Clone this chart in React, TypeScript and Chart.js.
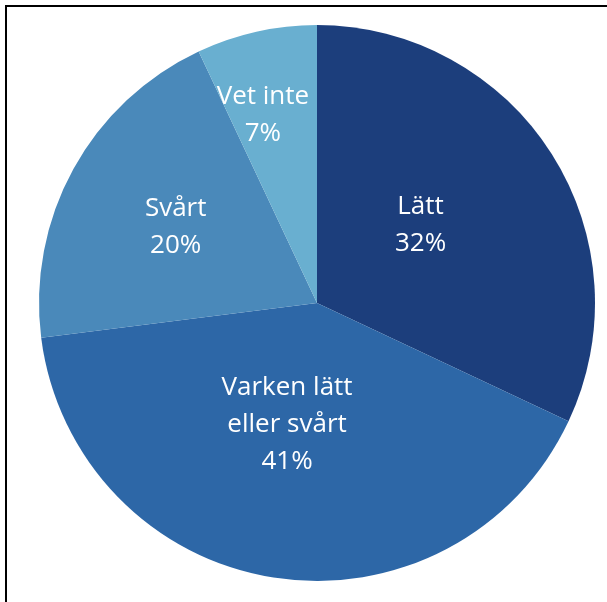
import React, { useEffect, useRef } from "react";
import { Chart, registerables } from "chart.js";

Chart.register(...registerables);

const categories: string[][] = [["Lätt"], ["Varken lätt", "eller svårt"], ["Svårt"], ["Vet inte"]];
const values: number[] = [32, 41, 20, 7];
const percentLabels: string[] = ["32%", "41%", "20%", "7%"];

const sliceColors = ["#1c3e7c", "#2d67a7", "#4a89ba", "#69afd0"];
const labelRadiusFraction = [0.47, 0.445, 0.58, 0.71];
const labelAngleOffsetDeg = [-5.2, 5, 0, -3.3];

const labelPlugin = {
  id: "sliceLabels",
  afterDatasetsDraw(chart: any) {
    const ctx = chart.ctx;
    const meta = chart.getDatasetMeta(0);
    ctx.save();
    ctx.fillStyle = "#ffffff";
    ctx.font = "500 26px 'Open Sans', Lato, sans-serif";
    ctx.textAlign = "center";
    ctx.textBaseline = "middle";
    const lineH = 37;
    meta.data.forEach((arc: any, i: number) => {
      const p = arc.getProps(["x", "y", "startAngle", "endAngle", "outerRadius"], true);
      const mid = (p.startAngle + p.endAngle) / 2 + (labelAngleOffsetDeg[i] * Math.PI) / 180;
      const r = p.outerRadius * labelRadiusFraction[i];
      const cx = p.x + Math.cos(mid) * r;
      const cy = p.y + Math.sin(mid) * r + 2;
      const lines = [...categories[i], percentLabels[i]];
      const top = cy - ((lines.length - 1) * lineH) / 2;
      lines.forEach((t, j) => ctx.fillText(t, cx, top + j * lineH));
    });
    ctx.restore();
  },
};

export default function App() {
  const ref = useRef<HTMLCanvasElement>(null);
  useEffect(() => {
    if (!ref.current) return;
    const chart = new Chart(ref.current, {
      type: "pie",
      data: {
        labels: categories.map((c) => c.join(" ")),
        datasets: [
          {
            data: values,
            backgroundColor: sliceColors,
            borderWidth: 0,
          },
        ],
      },
      options: {
        responsive: false,
        animation: false,
        layout: { padding: { top: 25, bottom: 21, left: 39, right: 12 } },
        plugins: { legend: { display: false }, tooltip: { enabled: false } },
      },
      plugins: [labelPlugin],
    });
    return () => chart.destroy();
  }, []);
  return (
    <div style={{ position: "fixed", left: 0, top: 0, width: 607, height: 602, background: "#fff", overflow: "hidden" }}>
      <div
        style={{
          position: "absolute",
          left: 5,
          top: 5,
          width: 700,
          height: 700,
          borderLeft: "2px solid #000",
          borderTop: "2px solid #000",
        }}
      />
      <canvas ref={ref} width={607} height={602} style={{ position: "absolute", left: 0, top: 0 }} />
    </div>
  );
}
